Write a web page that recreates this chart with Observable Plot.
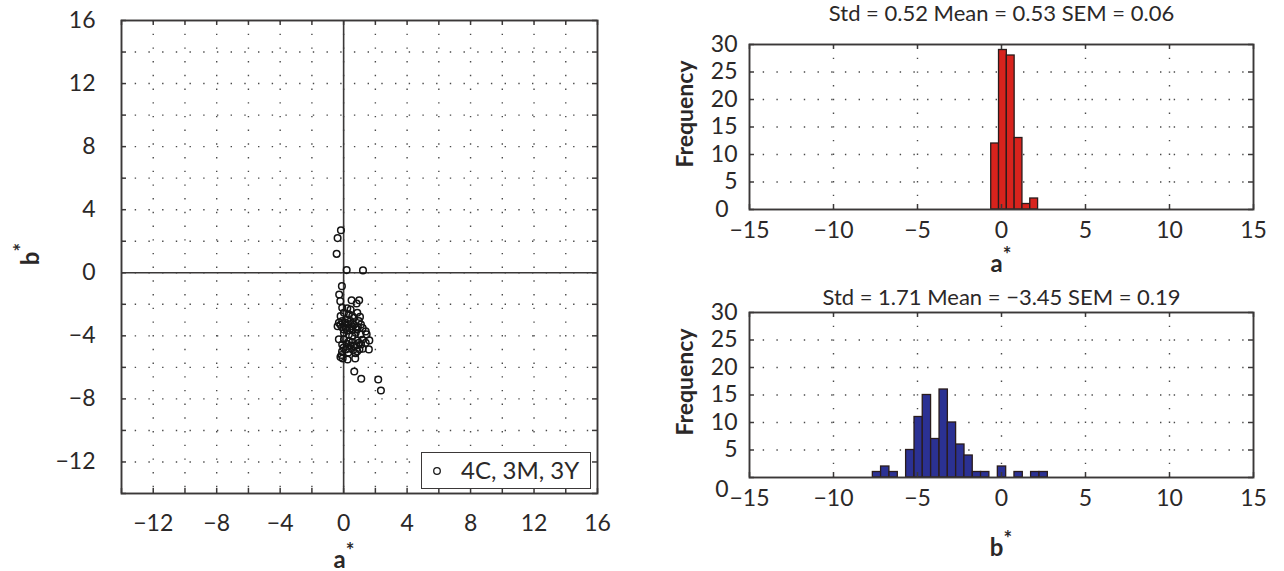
<!DOCTYPE html>
<html><head><meta charset="utf-8">
<script src="https://cdn.jsdelivr.net/npm/d3@7"></script>
<script src="https://cdn.jsdelivr.net/npm/@observablehq/plot@0.6"></script>
<style>
body{margin:0;background:#fff;width:1284px;height:571px;overflow:hidden;position:relative;font-family:Lato,"Open Sans",sans-serif;color:#2b2828}
.panel{position:absolute}
.lab{position:absolute;font-weight:bold;font-size:24px;line-height:24px;white-space:nowrap;color:#2b2828}
.lab .st{position:relative;top:-0.5em;font-size:0.85em}
.legend{position:absolute;left:421px;top:452px;width:170px;height:37px;box-sizing:border-box;border:1.6px solid #3b3838;background:#fff;font-size:24px;line-height:34px;white-space:nowrap}
.legend svg{position:absolute;left:9px;top:12px}
.legend span{position:absolute;left:39px;top:0}
</style></head><body>
<div id="scatter" class="panel" style="left:0;top:0"></div>
<div id="histA" class="panel" style="left:660px;top:0"></div>
<div id="histB" class="panel" style="left:660px;top:270px"></div>
<div class="legend"><svg width="12" height="12"><circle cx="6" cy="6" r="3.3" fill="none" stroke="#1a1a1a" stroke-width="1.3"/></svg><span id="legendText"></span></div>
<div class="lab" style="left:344px;top:547px;transform:translateX(-50%)">a<span class="st">*</span></div>
<div class="lab" style="left:30px;top:254px;transform:translate(-50%,-50%) rotate(-90deg)">b<span class="st">*</span></div>
<div class="lab" style="left:1001px;top:251px;transform:translateX(-50%)">a<span class="st">*</span></div>
<div class="lab" style="left:1001px;top:535px;transform:translateX(-50%)">b<span class="st">*</span></div>
<script>
// ---------- data ----------
const seriesName = "4C, 3M, 3Y";
const aStar = [-0.17,-0.38,-0.44,0.19,1.22,-0.11,-0.28,-0.21,0.5,0.98,0.82,
  0.23,0.44,0.02,0.86,0.33,-0.09,
  1.03,0.65,0.23,-0.09,-0.3,0.96,-0.19,0.44,0.55,0.1,
  -0.38,1.09,0.54,0.13,0.76,-0.2,0.0,0.3,0.4,0.65,0.9,-0.1,0.55,0.85,1.2,0.23,
  1.45,0.02,0.33,0.76,0.54,1.07,1.39,
  1.62,1.17,0.86,-0.3,1.39,0.96,0.33,0.02,-0.09,0.65,0.44,0.2,0.8,1.1,0.55,
  1.2,1.59,0.13,0.86,0.0,0.35,0.6,1.0,0.3,0.75,-0.1,
  -0.13,-0.06,0.25,0.73,-0.2,0.67,1.11,2.18,2.35];
const bStar = [2.7,2.2,1.2,0.17,0.15,-0.85,-1.38,-1.8,-1.74,-1.75,-1.95,
  -2.25,-2.33,-2.54,-2.54,-2.64,-2.22,
  -2.8,-2.85,-2.96,-3.07,-3.17,-3.07,-2.75,-3.07,-2.75,-3.15,
  -3.39,-3.28,-3.39,-3.49,-3.49,-3.3,-3.6,-3.25,-3.55,-3.3,-3.45,-3.45,-3.62,-3.6,-3.5,-3.66,
  -3.91,-3.8,-3.91,-3.8,-4.02,-3.91,-3.72,
  -4.29,-4.25,-4.3,-4.22,-4.44,-4.44,-4.34,-4.23,-4.55,-4.65,-4.62,-4.5,-4.6,-4.55,-4.4,
  -4.82,-4.86,-4.86,-4.97,-4.75,-4.8,-4.9,-4.85,-5.05,-5.1,-5.0,
  -5.22,-5.43,-5.5,-5.43,-5.35,-6.26,-6.72,-6.77,-7.47];
const scatterTicks = [-14,-12,-10,-8,-6,-4,-2,0,2,4,6,8,10,12,14,16];
const scatterTickLabels = [-12,-8,-4,0,4,8,12,16];

const aBinCenters = [-0.38,0.085,0.55,1.015,1.48,1.945];
const aCounts = [12,29,28,13,1,2];
const aTitle = "Std = 0.52 Mean = 0.53 SEM = 0.06";

const bBinCenters = [-7.41,-6.92,-6.42,-5.92,-5.43,-4.93,-4.44,-3.94,-3.44,-2.95,-2.45,-1.96,-1.46,-0.97,-0.47,0.03,0.52,1.02,1.52,2.01,2.51];
const bCounts = [1,2,1,0,5,11,15,7,16,10,6,4,1,1,0,2,0,1,0,1,1];
const bTitle = "Std = 1.71 Mean = \u22123.45 SEM = 0.19";

const histXTicks = [-15,-10,-5,0,5,10,15];
const histYTicks = [0,5,10,15,20,25,30];
const yLabel = "Frequency";

// ---------- styles ----------
const ink = "#3b3838";
const font = "Lato, 'Open Sans', sans-serif";
const fmt = d => d < 0 ? "\u2212" + (-d) : String(d);
const grid = {stroke: "#4a4a4a", strokeOpacity: 1, strokeWidth: 1.4, strokeDasharray: "1.4,12.3"};
const tickLen = 5;

document.getElementById("legendText").textContent = seriesName;

function inwardTicks(xt, yt, w, h) {
  const s = {stroke: ink, strokeWidth: 1.5};
  return [
    Plot.ruleX(xt, {x: d => d, insetTop: h - tickLen, ...s}),
    Plot.ruleX(xt, {x: d => d, insetBottom: h - tickLen, ...s}),
    Plot.ruleY(yt, {y: d => d, insetRight: w - tickLen, ...s}),
    Plot.ruleY(yt, {y: d => d, insetLeft: w - tickLen, ...s})
  ];
}

// ---------- scatter ----------
{
  const W = 620, H = 571, mL = 121, mR = 23, mT = 20, mB = 78;
  const pw = W - mL - mR, ph = H - mT - mB;
  const pts = aStar.map((a, i) => ({a, b: bStar[i]}));
  const chart = Plot.plot({
    width: W, height: H, marginLeft: mL, marginRight: mR, marginTop: mT, marginBottom: mB,
    style: {fontFamily: font, fontSize: "23px", color: "#2b2828", background: "transparent", overflow: "visible"},
    x: {domain: [-14, 16]}, y: {domain: [-14, 16]},
    marks: [
      Plot.gridX(scatterTicks.filter(d => d > -14 && d < 16), grid),
      Plot.gridY(scatterTicks.filter(d => d > -14 && d < 16), grid),
      Plot.ruleX([0], {stroke: ink, strokeWidth: 1.6}),
      Plot.ruleY([0], {stroke: ink, strokeWidth: 1.6}),
      Plot.dot(pts, {x: "a", y: "b", r: 3.3, stroke: "#141414", strokeWidth: 1.5, fill: "none"}),
      ...inwardTicks(scatterTicks, scatterTicks, pw, ph),
      Plot.axisX(scatterTickLabels, {tickSize: 0, tickPadding: 21, tickFormat: fmt, label: null}),
      Plot.axisY(scatterTickLabels, {tickSize: 0, tickPadding: 26, tickFormat: fmt, label: null}),
      Plot.frame({stroke: ink, strokeWidth: 1.9})
    ]
  });
  document.getElementById("scatter").append(chart);
}

// ---------- histograms ----------
function hist(el, centers, counts, fill, title, H, mT, mB, titleDy, zeroDx, zeroDy) {
  const W = 624, mL = 89, mR = 31;
  const pw = W - mL - mR, ph = H - mT - mB;
  const bw = (centers[centers.length - 1] - centers[0]) / (centers.length - 1);
  const bins = centers.map((c, i) => ({x1: c - bw / 2, x2: c + bw / 2, n: counts[i]})).filter(d => d.n > 0);
  const chart = Plot.plot({
    width: W, height: H, marginLeft: mL, marginRight: mR, marginTop: mT, marginBottom: mB,
    style: {fontFamily: font, fontSize: "23px", color: "#2b2828", background: "transparent", overflow: "visible"},
    x: {domain: [-15, 15]}, y: {domain: [0, 30]},
    marks: [
      Plot.gridX(histXTicks.filter(d => d > -15 && d < 15), grid),
      Plot.gridY(histYTicks.filter(d => d > 0 && d < 30), grid),
      Plot.rectY(bins, {x1: "x1", x2: "x2", y: "n", fill, stroke: "#2a1c1c", strokeWidth: 1.3}),
      ...inwardTicks(histXTicks, histYTicks, pw, ph),
      Plot.axisX(histXTicks, {tickSize: 0, tickPadding: 12, tickFormat: fmt, label: null}),
      Plot.axisY(histYTicks.filter(d => d > 0), {tickSize: 0, tickPadding: 12, tickFormat: fmt, label: null}),
      Plot.axisY([0], {tickSize: 0, tickPadding: 12, tickFormat: fmt, label: null, dx: zeroDx, dy: zeroDy}),
      Plot.text([yLabel], {text: d => d, frameAnchor: "left", textAnchor: "middle", lineAnchor: "middle", rotate: -90, dx: -64, dy: -13, fontWeight: "bold", fontSize: 23, fill: "#2b2828"}),
      Plot.text([title], {text: d => d, frameAnchor: "top", textAnchor: "middle", lineAnchor: "middle", dy: titleDy, fontSize: 22, fill: "#2b2828"}),
      Plot.frame({stroke: ink, strokeWidth: 1.9})
    ]
  });
  document.getElementById(el).append(chart);
}
hist("histA", aBinCenters, aCounts, "#d8231d", aTitle, 250, 44, 41, -31, -9, 0);
hist("histB", bBinCenters, bCounts, "#2b3193", bTitle, 301, 42, 94, -15, -9, 12);
</script>
</body></html>
